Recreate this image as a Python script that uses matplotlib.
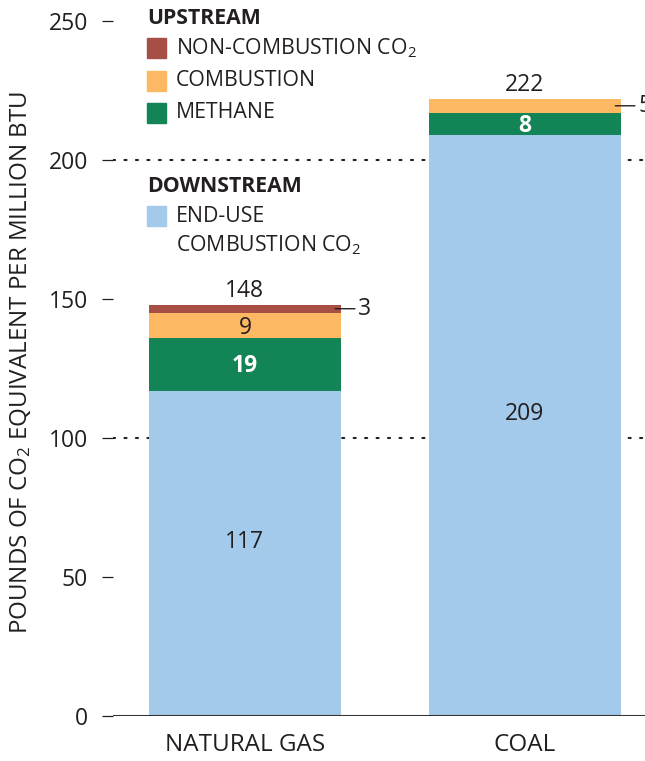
import matplotlib
matplotlib.use("Agg")
import matplotlib.pyplot as plt
from matplotlib.patches import Rectangle

plt.rcParams['font.family'] = ['Open Sans', 'DejaVu Sans']
plt.rcParams['mathtext.default'] = 'regular'

categories = ["NATURAL GAS", "COAL"]
end_use = [117, 209]
methane = [19, 8]
combustion = [9, 5]
non_combustion = [3, 0]
totals = [148, 222]
yticks = [0, 50, 100, 150, 200, 250]
grid_values = [100, 200]

C_END = "#A3C9EB"
C_METH = "#138455"
C_COMB = "#FDB863"
C_NONC = "#A84F45"
TXT = "#231F20"

W, H = 645, 761
fig = plt.figure(figsize=(W / 100, H / 100), dpi=100)
ax = fig.add_axes([113 / W, 45 / H, 1 - 113 / W, (716 - 21) / H])

x = list(range(len(categories)))
bw = 0.686
bottoms = [0] * len(x)
for vals, col in [(end_use, C_END), (methane, C_METH), (combustion, C_COMB), (non_combustion, C_NONC)]:
    ax.bar(x, vals, bw, bottom=bottoms, color=col, zorder=2, linewidth=0)
    bottoms = [b + v for b, v in zip(bottoms, vals)]

for g in grid_values:
    ax.axhline(g, color=TXT, lw=1.5, linestyle=(0, (1, 4.5)), dash_capstyle='round', zorder=1)
ax.axhline(0, color="#333333", lw=2.2, zorder=3)

ax.set_xlim(-0.471, 1.429)
ax.set_ylim(0, 250)
ax.set_yticks(yticks)
ax.set_yticklabels([str(t) for t in yticks], fontsize=16.5, color=TXT)
ax.tick_params(axis='y', direction='out', length=8, width=0.9, color=TXT, pad=10)
ax.set_xticks(x)
ax.set_xticklabels(categories, fontsize=17.5, color=TXT)
ax.tick_params(axis='x', length=0, pad=12)
for s in ax.spines.values():
    s.set_visible(False)

ax.set_ylabel("POUNDS OF CO$_2$ EQUIVALENT PER MILLION BTU", fontsize=17.4, color=TXT)
ax.yaxis.set_label_coords(-0.15, 0.508)

NUM = 16.5
for i in x:
    ax.annotate(str(end_use[i]), (i, end_use[i] / 2), xytext=(0, 8), textcoords='offset points',
                ha='center', va='center', fontsize=NUM, color=TXT)
    ax.annotate(str(methane[i]), (i, end_use[i] + methane[i] / 2), xytext=(0, -1.5), textcoords='offset points',
                ha='center', va='center', fontsize=NUM, color='white', fontweight='bold')
    ax.annotate(str(totals[i]), (i, totals[i]), xytext=(0, 5.5), textcoords='offset points',
                ha='center', va='baseline', fontsize=NUM, color=TXT)

ax.annotate(str(combustion[0]), (0, end_use[0] + methane[0] + combustion[0] / 2), xytext=(0, -2),
            textcoords='offset points', ha='center', va='center', fontsize=NUM, color=TXT)

def leader(i, ymid, label):
    xr = i + bw / 2
    ax.annotate("", xy=(xr - 0.02, ymid), xytext=(xr + 0.05, ymid),
                arrowprops=dict(arrowstyle='-', color=TXT, lw=1.0, shrinkA=0, shrinkB=0), annotation_clip=False)
    ax.text(xr + 0.062, ymid, label, ha='left', va='center', fontsize=NUM, color=TXT, clip_on=False)

leader(0, end_use[0] + methane[0] + combustion[0] + non_combustion[0] / 2, str(non_combustion[0]))
leader(1, end_use[1] + methane[1] + combustion[1] / 2, str(combustion[1]))

def fy(py):
    return 1 - py / H

LEG = 15.3

def header(py, s):
    fig.text(147 / W, fy(py), s, fontsize=LEG, fontweight='bold', color=TXT, va='center', ha='left')

def item(py, col, s):
    fig.patches.append(Rectangle((147 / W, fy(py + 9.5)), 19 / W, 19 / H, transform=fig.transFigure,
                                 color=col, figure=fig))
    fig.text(176 / W, fy(py), s, fontsize=LEG, color=TXT, va='center', ha='left')

header(18, "UPSTREAM")
item(48, C_NONC, "NON-COMBUSTION CO$_2$")
item(81, C_COMB, "COMBUSTION")
item(113, C_METH, "METHANE")
header(186, "DOWNSTREAM")
item(216, C_END, "END-USE")
fig.text(176 / W, fy(245), "COMBUSTION CO$_2$", fontsize=LEG, color=TXT, va='center', ha='left')

fig.savefig("out.png", dpi=100)
